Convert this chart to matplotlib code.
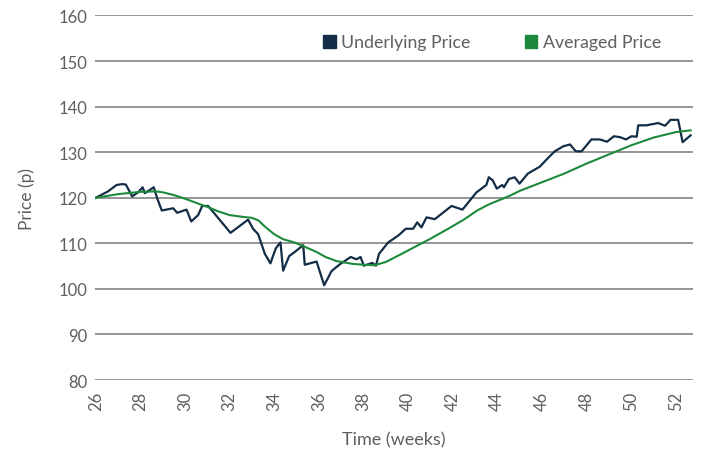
import matplotlib
matplotlib.use("Agg")
import matplotlib.pyplot as plt
from matplotlib.patches import Patch

# data
dark_weeks = [26.0, 26.55, 26.93, 27.18, 27.35, 27.63, 27.9, 28.1, 28.2, 28.6,
              28.76, 28.96, 29.47, 29.65, 30.07, 30.28, 30.59, 30.77, 31.04, 32.04,
              32.83, 33.05, 33.28, 33.58, 33.83, 34.07, 34.28, 34.4, 34.67, 34.92,
              35.3, 35.37, 35.9, 36.24, 36.57, 36.94, 37.43, 37.69, 37.87, 38.02,
              38.4, 38.56, 38.7, 39.11, 39.56, 39.9, 40.23, 40.41, 40.6, 40.83,
              41.2, 41.95, 42.44, 43.07, 43.51, 43.62, 43.8, 43.98, 44.22, 44.3,
              44.52, 44.78, 45.0, 45.37, 45.9, 46.33, 46.58, 46.96, 47.26, 47.52,
              47.78, 48.22, 48.6, 48.92, 49.23, 49.5, 49.77, 50.02, 50.25, 50.32,
              50.69, 51.22, 51.52, 51.77, 52.11, 52.31, 52.67]
dark_vals = [120.0, 121.4, 122.8, 123.0, 122.9, 120.3, 121.2, 122.3, 121.0, 122.3,
             119.8, 117.2, 117.7, 116.7, 117.4, 114.8, 116.2, 118.2, 118.2, 112.3,
             115.2, 113.2, 112.0, 107.7, 105.6, 108.9, 110.2, 104.0, 107.2, 108.1,
             109.6, 105.3, 106.0, 100.8, 103.9, 105.4, 107.0, 106.5, 107.0, 105.1,
             105.7, 105.1, 107.7, 110.2, 111.7, 113.2, 113.2, 114.6, 113.5, 115.7,
             115.3, 118.2, 117.4, 121.2, 122.8, 124.5, 123.8, 122.0, 122.8, 122.3,
             124.1, 124.5, 123.1, 125.3, 126.8, 129.0, 130.2, 131.3, 131.7, 130.2,
             130.2, 132.8, 132.8, 132.3, 133.5, 133.3, 132.8, 133.5, 133.4, 135.9,
             135.9, 136.4, 135.8, 137.1, 137.1, 132.2, 133.7]

avg_weeks = [26.0, 27.0, 28.0, 28.7, 29.0, 29.5, 30.0, 30.66, 31.0, 31.5,
             32.0, 32.6, 33.0, 33.3, 33.6, 34.0, 34.4, 34.9, 35.2, 35.9,
             36.3, 36.8, 37.5, 38.0, 38.5, 39.0, 39.6, 40.3, 41.0, 41.8,
             42.5, 43.1, 43.6, 44.5, 45.0, 46.0, 47.0, 48.0, 49.0, 50.0,
             51.0, 52.0, 52.67]
avg_vals = [120.0, 120.8, 121.3, 121.4, 121.2, 120.6, 119.8, 118.6, 118.0, 117.0,
            116.2, 115.8, 115.6, 115.0, 113.6, 112.0, 110.9, 110.2, 109.6, 108.1,
            107.0, 106.1, 105.5, 105.3, 105.2, 105.9, 107.4, 109.2, 111.0, 113.2,
            115.2, 117.2, 118.5, 120.3, 121.5, 123.4, 125.3, 127.5, 129.5, 131.5,
            133.2, 134.4, 134.8]

x_ticks = list(range(26, 53, 2))
y_ticks = list(range(80, 161, 10))

dark_col = "#132d46"
green_col = "#1c8a3a"
text_col = "#5f5f5f"

plt.rcParams['font.family'] = ['Lato', 'DejaVu Sans']

fig = plt.figure(figsize=(7.02, 4.52), dpi=100)
ax = fig.add_axes([0.135, 0.157, 0.852, 0.8065])

ax.plot(dark_weeks, dark_vals, color=dark_col, lw=1.6, zorder=3)
ax.plot(avg_weeks, avg_vals, color=green_col, lw=1.5, zorder=3)

ax.set_xlim(25.955, 52.77)
ax.set_ylim(80, 160)
ax.set_xticks(x_ticks)
ax.set_xticklabels([str(t) for t in x_ticks], rotation=90)
ax.set_yticks(y_ticks)
ax.grid(axis='y', color='#8c8c8c', lw=1.3)
ax.set_axisbelow(True)
for s in ax.spines.values():
    s.set_visible(False)
ax.tick_params(length=0, labelsize=12, labelcolor=text_col)
ax.tick_params(axis='y', pad=5)
ax.tick_params(axis='x', pad=8)

ax.set_xlabel("Time (weeks)", fontsize=13, color=text_col, labelpad=15)
ax.set_ylabel("Price (p)", fontsize=12.5, color=text_col, labelpad=17)

handles = [Patch(color=dark_col, label="Underlying Price"),
           Patch(color=green_col, label="Averaged Price")]
fig.legend(handles=handles, loc='upper left', bbox_to_anchor=(0.437, 0.957),
           ncol=2, frameon=False, handlelength=0.72, handleheight=0.72,
           handletextpad=0.3, columnspacing=3.05, fontsize=12.8,
           labelcolor=text_col)

fig.savefig("out.png", dpi=100)
